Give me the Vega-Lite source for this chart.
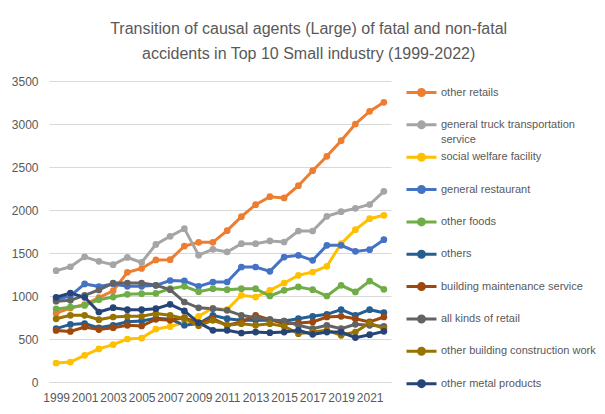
{
  "$schema": "https://vega.github.io/schema/vega-lite/v6.json",
  "width": 342,
  "height": 301,
  "autosize": "none",
  "padding": {"left": 49, "top": 81, "right": 214, "bottom": 32},
  "background": "white",
  "title": {
    "text": ["Transition of causal agents (Large) of fatal and non-fatal", "accidents in Top 10 Small industry (1999-2022)"],
    "anchor": "middle",
    "frame": "bounds",
    "font": "Liberation Sans",
    "fontSize": 16,
    "fontWeight": "normal",
    "color": "#595959",
    "lineHeight": 25,
    "offset": 13,
    "dx": 5
  },
  "data": {
    "values": [
      {"year": 1999, "other retails": 800, "general truck transportation service": 1295, "social welfare facility": 220, "general restaurant": 960, "other foods": 850, "others": 620, "building maintenance service": 600, "all kinds of retail": 940, "other building construction work": 735, "other metal products": 985},
      {"year": 2000, "other retails": 860, "general truck transportation service": 1340, "social welfare facility": 232, "general restaurant": 1000, "other foods": 870, "others": 670, "building maintenance service": 588, "all kinds of retail": 950, "other building construction work": 775, "other metal products": 1035},
      {"year": 2001, "other retails": 900, "general truck transportation service": 1455, "social welfare facility": 310, "general restaurant": 1140, "other foods": 890, "others": 680, "building maintenance service": 640, "all kinds of retail": 1008, "other building construction work": 775, "other metal products": 985},
      {"year": 2002, "other retails": 980, "general truck transportation service": 1403, "social welfare facility": 385, "general restaurant": 1110, "other foods": 957, "others": 630, "building maintenance service": 610, "all kinds of retail": 1070, "other building construction work": 725, "other metal products": 814},
      {"year": 2003, "other retails": 1060, "general truck transportation service": 1364, "social welfare facility": 434, "general restaurant": 1140, "other foods": 988, "others": 660, "building maintenance service": 632, "all kinds of retail": 1150, "other building construction work": 756, "other metal products": 864},
      {"year": 2004, "other retails": 1275, "general truck transportation service": 1448, "social welfare facility": 500, "general restaurant": 1112, "other foods": 1019, "others": 700, "building maintenance service": 659, "all kinds of retail": 1150, "other building construction work": 764, "other metal products": 841},
      {"year": 2005, "other retails": 1320, "general truck transportation service": 1390, "social welfare facility": 510, "general restaurant": 1112, "other foods": 1027, "others": 710, "building maintenance service": 651, "all kinds of retail": 1150, "other building construction work": 764, "other metal products": 841},
      {"year": 2006, "other retails": 1420, "general truck transportation service": 1600, "social welfare facility": 615, "general restaurant": 1124, "other foods": 1030, "others": 740, "building maintenance service": 729, "all kinds of retail": 1124, "other building construction work": 795, "other metal products": 853},
      {"year": 2007, "other retails": 1422, "general truck transportation service": 1694, "social welfare facility": 645, "general restaurant": 1180, "other foods": 1085, "others": 730, "building maintenance service": 717, "all kinds of retail": 1074, "other building construction work": 775, "other metal products": 903},
      {"year": 2008, "other retails": 1580, "general truck transportation service": 1783, "social welfare facility": 690, "general restaurant": 1175, "other foods": 1112, "others": 660, "building maintenance service": 748, "all kinds of retail": 930, "other building construction work": 736, "other metal products": 826},
      {"year": 2009, "other retails": 1624, "general truck transportation service": 1475, "social welfare facility": 764, "general restaurant": 1112, "other foods": 1050, "others": 680, "building maintenance service": 678, "all kinds of retail": 862, "other building construction work": 655, "other metal products": 690},
      {"year": 2010, "other retails": 1624, "general truck transportation service": 1543, "social welfare facility": 860, "general restaurant": 1163, "other foods": 1085, "others": 775, "building maintenance service": 736, "all kinds of retail": 853, "other building construction work": 717, "other metal products": 601},
      {"year": 2011, "other retails": 1760, "general truck transportation service": 1512, "social welfare facility": 841, "general restaurant": 1163, "other foods": 1074, "others": 736, "building maintenance service": 659, "all kinds of retail": 833, "other building construction work": 659, "other metal products": 601},
      {"year": 2012, "other retails": 1922, "general truck transportation service": 1609, "social welfare facility": 1008, "general restaurant": 1337, "other foods": 1085, "others": 717, "building maintenance service": 698, "all kinds of retail": 775, "other building construction work": 678, "other metal products": 570},
      {"year": 2013, "other retails": 2062, "general truck transportation service": 1609, "social welfare facility": 988, "general restaurant": 1337, "other foods": 1085, "others": 717, "building maintenance service": 775, "all kinds of retail": 748, "other building construction work": 659, "other metal products": 581},
      {"year": 2014, "other retails": 2155, "general truck transportation service": 1640, "social welfare facility": 1066, "general restaurant": 1287, "other foods": 1000, "others": 717, "building maintenance service": 725, "all kinds of retail": 725, "other building construction work": 678, "other metal products": 574},
      {"year": 2015, "other retails": 2140, "general truck transportation service": 1628, "social welfare facility": 1151, "general restaurant": 1453, "other foods": 1066, "others": 709, "building maintenance service": 678, "all kinds of retail": 709, "other building construction work": 647, "other metal products": 581},
      {"year": 2016, "other retails": 2283, "general truck transportation service": 1756, "social welfare facility": 1240, "general restaurant": 1473, "other foods": 1105, "others": 736, "building maintenance service": 686, "all kinds of retail": 659, "other building construction work": 562, "other metal products": 601},
      {"year": 2017, "other retails": 2457, "general truck transportation service": 1756, "social welfare facility": 1279, "general restaurant": 1415, "other foods": 1074, "others": 764, "building maintenance service": 698, "all kinds of retail": 620, "other building construction work": 581, "other metal products": 554},
      {"year": 2018, "other retails": 2624, "general truck transportation service": 1926, "social welfare facility": 1345, "general restaurant": 1589, "other foods": 1000, "others": 787, "building maintenance service": 756, "all kinds of retail": 659, "other building construction work": 601, "other metal products": 581},
      {"year": 2019, "other retails": 2806, "general truck transportation service": 1980, "social welfare facility": 1609, "general restaurant": 1589, "other foods": 1124, "others": 841, "building maintenance service": 764, "all kinds of retail": 620, "other building construction work": 543, "other metal products": 581},
      {"year": 2020, "other retails": 3000, "general truck transportation service": 2019, "social welfare facility": 1771, "general restaurant": 1519, "other foods": 1047, "others": 775, "building maintenance service": 736, "all kinds of retail": 671, "other building construction work": 581, "other metal products": 516},
      {"year": 2021, "other retails": 3147, "general truck transportation service": 2064, "social welfare facility": 1899, "general restaurant": 1539, "other foods": 1174, "others": 841, "building maintenance service": 698, "all kinds of retail": 659, "other building construction work": 686, "other metal products": 550},
      {"year": 2022, "other retails": 3252, "general truck transportation service": 2217, "social welfare facility": 1938, "general restaurant": 1655, "other foods": 1078, "others": 806, "building maintenance service": 756, "all kinds of retail": 647, "other building construction work": 620, "other metal products": 589}
    ]
  },
  "transform": [
    {"fold": ["other retails", "general truck transportation service", "social welfare facility", "general restaurant", "other foods", "others", "building maintenance service", "all kinds of retail", "other building construction work", "other metal products"], "as": ["series", "value"]}
  ],
  "mark": {"type": "line", "strokeWidth": 3, "point": {"filled": true, "size": 45, "opacity": 1}},
  "encoding": {
    "x": {
      "field": "year",
      "type": "ordinal",
      "scale": {"type": "point", "padding": 0.5},
      "axis": {
        "title": null,
        "labelAngle": 0,
        "labelExpr": "datum.value % 2 == 1 ? datum.label : ''",
        "labelFont": "Liberation Sans",
        "labelFontSize": 12,
        "labelColor": "#595959",
        "labelPadding": 10,
        "ticks": false,
        "domain": true,
        "domainColor": "#D9D9D9",
        "grid": false
      }
    },
    "y": {
      "field": "value",
      "type": "quantitative",
      "scale": {"domain": [0, 3500], "nice": false},
      "axis": {
        "title": null,
        "values": [0, 500, 1000, 1500, 2000, 2500, 3000, 3500],
        "format": "d",
        "labelFont": "Liberation Sans",
        "labelFontSize": 12,
        "labelColor": "#595959",
        "labelPadding": 11,
        "ticks": false,
        "domain": false,
        "gridColor": "#D9D9D9",
        "gridWidth": 1
      }
    },
    "color": {
      "field": "series",
      "type": "nominal",
      "scale": {
        "domain": ["other retails", "general truck transportation service", "social welfare facility", "general restaurant", "other foods", "others", "building maintenance service", "all kinds of retail", "other building construction work", "other metal products"],
        "range": ["#ED7D31", "#A5A5A5", "#FFC000", "#4472C4", "#70AD47", "#255E91", "#9E480E", "#636363", "#997300", "#264478"]
      },
      "legend": {
        "title": null,
        "orient": "none",
        "legendX": 361,
        "legendY": 0,
        "symbolType": "M-1.5,0L1.5,0M-0.3,0A0.3,0.3 0 1,0 0.3,0A0.3,0.3 0 1,0 -0.3,0",
        "symbolSize": 400,
        "symbolStrokeWidth": 3,
        "labelFont": "Liberation Sans",
        "labelFontSize": 11,
        "labelColor": "#595959",
        "labelLimit": 300,
        "labelOffset": 8,
        "rowPadding": 0.35,
        "labelExpr": "datum.label == 'general truck transportation service' ? ['general truck transportation', 'service'] : [datum.label, '']",
        "encode": {
          "labels": {"update": {"lineHeight": {"value": 15}}}
        }
      }
    }
  },
  "config": {
    "view": {"stroke": null}
  }
}
